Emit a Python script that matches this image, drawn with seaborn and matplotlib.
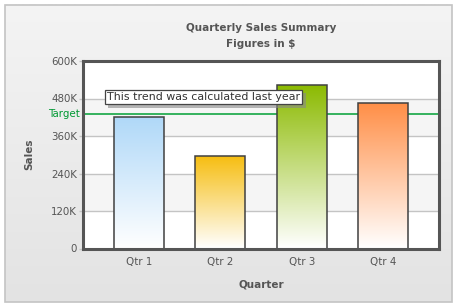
import numpy as np
import pandas as pd
import matplotlib
matplotlib.use("Agg")
import matplotlib.pyplot as plt
import seaborn as sns
from matplotlib.colors import LinearSegmentedColormap
from matplotlib.patches import Rectangle
import matplotlib.transforms as mtransforms
import matplotlib.patheffects as pe

# ---- data ----
quarters = ["Qtr 1", "Qtr 2", "Qtr 3", "Qtr 4"]
sales = [420000, 296000, 522000, 465000]
bar_colors = ["#AFD8F8", "#F6BD0F", "#8BBA00", "#FF8E46"]
target_value = 430000
target_label = "Target"
y_ticks = [0, 120000, 240000, 360000, 480000, 600000]
y_tick_labels = ["0", "120K", "240K", "360K", "480K", "600K"]
title = "Quarterly Sales Summary"
subtitle = "Figures in $"
x_title = "Quarter"
y_title = "Sales"
note = "This trend was calculated last year"

df = pd.DataFrame({"Quarter": quarters, "Sales": sales})

sns.set_theme(style="white")
plt.rcParams["font.family"] = ["DejaVu Sans"]

W, H = 457, 305
fig = plt.figure(figsize=(W / 100, H / 100), dpi=100)

# background gradient panel with border
bg = fig.add_axes([0, 0, 1, 1], zorder=-10)
bg.set_axis_off()
bg.set_xlim(0, W)
bg.set_ylim(H, 0)
grad = np.linspace(0, 1, 256).reshape(-1, 1)
bg_cmap = LinearSegmentedColormap.from_list("bg", ["#f4f4f4", "#e3e3e3"])
bg.imshow(grad, cmap=bg_cmap, extent=[4.5, 451.5, 302, 4.5], aspect="auto", zorder=0)
bg.add_patch(Rectangle((4.5, 4.5), 447, 297.5, fill=False, edgecolor="#c4c4c4", lw=1.2, zorder=1))

ax = fig.add_axes([82.7 / W, 1 - 248.5 / H, (439.3 - 82.7) / W, (248.5 - 61) / H])

sns.barplot(data=df, x="Quarter", y="Sales", hue="Quarter", palette=bar_colors,
            width=0.614, edgecolor="#404040", linewidth=1.1, legend=False, ax=ax, zorder=3)

# gradient fills for bars
for patch, col in zip(ax.patches, bar_colors):
    x0, y0 = patch.get_x(), patch.get_y()
    w, h = patch.get_width(), patch.get_height()
    cmap = LinearSegmentedColormap.from_list("g", ["#ffffff", col])
    im = ax.imshow(grad, cmap=cmap, extent=[x0, x0 + w, y0, y0 + h], origin="lower",
                   aspect="auto", zorder=2.9)
    im.set_clip_path(patch)
    patch.set_facecolor("none")

ax.set_xlim(-0.69, 3.69)
ax.set_ylim(0, 600000)

# alternating bands
for i in range(len(y_ticks) - 1):
    if i % 2 == 1:
        ax.axhspan(y_ticks[i], y_ticks[i + 1], color="#f5f5f5", zorder=0, lw=0)
for t in y_ticks[1:-1]:
    ax.axhline(t, color="#c4c4c4", lw=1, zorder=1)

ax.set_facecolor("white")
ax.axhline(target_value, color="#00a035", lw=1.1, zorder=2)
ax.text(-0.008, target_value, target_label, transform=mtransforms.blended_transform_factory(ax.transAxes, ax.transData),
        ha="right", va="center", color="#009933", fontsize=7.4)

ax.set_yticks(y_ticks)
ax.set_yticklabels(y_tick_labels)
ax.tick_params(axis="y", length=3, width=1, color="#c4c4c4", pad=1, labelsize=7.4, labelcolor="#555555")
ax.tick_params(axis="x", length=0, pad=6, labelsize=7.4, labelcolor="#555555")
ax.tick_params(axis="y", which="both", left=True)

for s in ax.spines.values():
    s.set_visible(True)
    s.set_color("#555555")
    s.set_linewidth(2.2)
    s.set_zorder(5)

ax.set_xlabel(x_title, fontsize=7.5, fontweight="bold", color="#555555", labelpad=9)
ax.set_ylabel(y_title, fontsize=7.5, fontweight="bold", color="#555555", labelpad=12)

fig.text(261 / W, 1 - 28 / H, title, ha="center", va="center", fontsize=7.5, fontweight="bold", color="#555555")
fig.text(261 / W, 1 - 44 / H, subtitle, ha="center", va="center", fontsize=7.5, fontweight="bold", color="#555555")

# note box with shadow
nx, ny = 0.794, 485000
t = ax.text(nx, ny, note, ha="center", va="center", fontsize=7.9, color="#333333",
            bbox=dict(boxstyle="square,pad=0.2", fc="white", ec="#444444", lw=0.9), zorder=7)
t.get_bbox_patch().set_path_effects([pe.SimplePatchShadow(offset=(2.5, -2.5), shadow_rgbFace="#888888", alpha=0.6),
                                     pe.Normal()])

fig.savefig("out.png", dpi=100)
